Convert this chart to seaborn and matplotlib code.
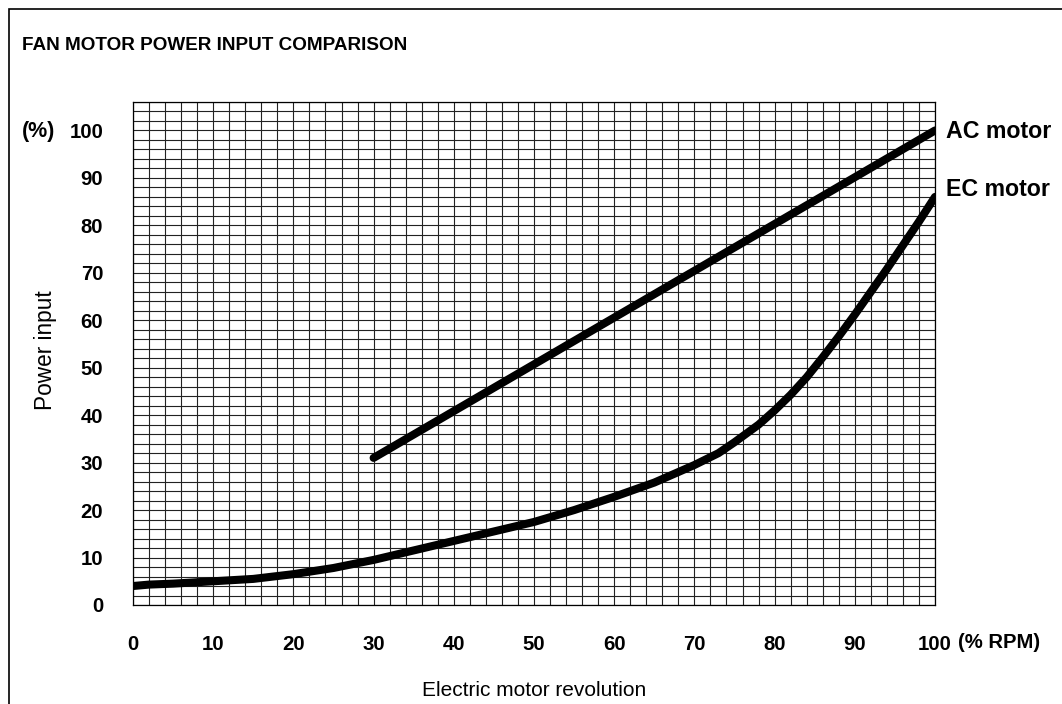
import numpy as np
import pandas as pd
import matplotlib
matplotlib.use("Agg")
import matplotlib.pyplot as plt
from matplotlib.patches import Rectangle
import seaborn as sb

# dati (% RPM -> % potenza assorbita)
ac_rpm = [30, 100]
ac_power = [31, 100]

ec_rpm = [0, 2, 5, 10, 15, 20, 25, 30, 35, 40, 45, 50, 55, 60, 65, 70, 73, 75, 78, 80, 82,
          84, 86, 88, 90, 92, 94, 96, 98, 100]
ec_power = [4, 4.3, 4.5, 5, 5.5, 6.5, 7.8, 9.5, 11.5, 13.5, 15.5, 17.5, 20, 22.8, 25.8, 29.5,
            32, 34.3, 38, 41, 44.3, 48, 52.2, 56.6, 61.2, 66, 70.8, 75.8, 80.8, 86]

x_ticks = list(range(0, 101, 10))
y_ticks = list(range(0, 101, 10))

df_ac = pd.DataFrame({"rpm": ac_rpm, "power": ac_power})
df_ec = pd.DataFrame({"rpm": ec_rpm, "power": ec_power})

sb.set_style("white")
plt.rcParams["font.family"] = ["Liberation Sans", "DejaVu Sans"]
plt.rcParams["text.color"] = "black"
plt.rcParams["axes.labelcolor"] = "black"
plt.rcParams["xtick.color"] = "black"
plt.rcParams["ytick.color"] = "black"

W, H = 1062, 704
fig = plt.figure(figsize=(W / 100, H / 100), dpi=100)
ax = fig.add_axes([133 / W, (H - 605) / H, (935 - 133) / W, (605 - 102) / H])

# griglia fine ogni 2 unita'
ax.set_xticks(np.arange(0, 101, 2), minor=True)
ax.set_yticks(np.arange(0, 107, 2), minor=True)
ax.grid(which="both", color="#222222", linewidth=0.8)
ax.set_axisbelow(True)

sb.lineplot(data=df_ac, x="rpm", y="power", ax=ax, color="black", linewidth=5.8,
            solid_capstyle="round")
sb.lineplot(data=df_ec, x="rpm", y="power", ax=ax, color="black", linewidth=5.8,
            solid_capstyle="round", solid_joinstyle="round")

ax.set_xlim(0, 100)
ax.set_ylim(0, 106)
ax.set_xticks(x_ticks)
ax.set_yticks(y_ticks)
ax.set_xticklabels([str(v) for v in x_ticks], fontweight="bold", fontsize=14.7)
ax.set_yticklabels([str(v) for v in y_ticks], fontweight="bold", fontsize=14.7)
ax.tick_params(axis="both", which="major", direction="out", length=18.5, width=0.9,
               color="black", pad=3)
ax.tick_params(axis="both", which="minor", length=0)
for s in ax.spines.values():
    s.set_color("black")
    s.set_linewidth(0.9)

ax.set_xlabel("Electric motor revolution", fontsize=15)
ax.set_ylabel("Power input", fontsize=16.3)
ax.xaxis.set_label_coords(0.5, -0.152)
ax.yaxis.set_label_coords(-0.0948, 0.506)

# testi esterni al grafico
fig.text(22 / W, 1 - 45 / H, "FAN MOTOR POWER INPUT COMPARISON", fontsize=13.6,
         fontweight="bold", va="center", ha="left")
fig.text(22 / W, 1 - 131 / H, "(%)", fontsize=15.5, fontweight="bold", va="center", ha="left")
fig.text(946 / W, 1 - 131 / H, "AC motor", fontsize=16.7, fontweight="bold", va="center", ha="left")
fig.text(946 / W, 1 - 190 / H, "EC motor", fontsize=16.7, fontweight="bold", va="center", ha="left")
fig.text(958 / W, 1 - 642 / H, "(% RPM)", fontsize=14.6, fontweight="bold", va="center", ha="left")

# cornice
fig.add_artist(Rectangle((8.5 / W, -0.1), 2, 1.1 - 9 / H, transform=fig.transFigure,
                         fill=False, edgecolor="black", linewidth=1.2))

fig.savefig("out.png", dpi=100)
